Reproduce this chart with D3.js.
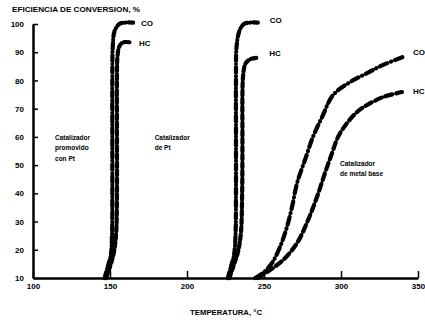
<!DOCTYPE html>
<html>
<head>
<meta charset="utf-8">
<script src="https://cdn.jsdelivr.net/npm/d3@7"></script>
<style>
  body { margin: 0; background: #fff; }
  svg { display: block; }
  text { font-family: "Liberation Sans", Arial, sans-serif; font-weight: bold; fill: #000; }
  .axis path, .axis line { stroke: #000; }
</style>
</head>
<body>
<div id="chart"></div>
<script>
// temperatures (°C) and conversion efficiency (%)
var xTicks = [100, 150, 200, 250, 300, 350];
var yTicks = [10, 20, 30, 40, 50, 60, 70, 80, 90, 100];

// promoted Pt catalyst
var promCoT = [146.5, 148.5, 150.5, 151.3, 151.5, 151.5, 151.5, 151.8, 153, 156, 160, 165];
var promCoV = [10, 14, 18, 25, 40, 60, 80, 92, 97.5, 100, 100.5, 100.5];
var promHcT = [147.5, 150, 152.5, 154, 154.5, 154.5, 154.5, 154.8, 156, 158.5, 163];
var promHcV = [10, 14, 19, 26, 40, 60, 80, 88, 92, 93.5, 93.5];

// Pt catalyst
var ptCoT = [226.5, 228.5, 230.5, 231.5, 231.8, 231.8, 231.8, 232.2, 234, 237, 241, 246];
var ptCoV = [10, 14, 18, 25, 40, 60, 80, 92, 97.5, 100, 100.5, 100.5];
var ptHcT = [227.5, 230, 233, 235, 235.8, 236, 236, 236.5, 238, 241, 245];
var ptHcV = [10, 14, 19, 26, 40, 60, 75, 82, 86, 87.5, 88];

// base metal catalyst
var baseCoT = [244.2, 249.4, 255.2, 260.4, 264.9, 268.2, 271.5, 276.6, 281.8, 287.7, 294.8, 305.9, 316.9, 327.3, 340.3];
var baseCoV = [10, 11.8, 15.3, 21, 28.1, 35.2, 43.7, 51.8, 60, 67, 74.8, 79.4, 82.6, 85.5, 88.3];
var baseHcT = [246, 253.9, 262.4, 271.5, 278.6, 284.4, 289.6, 294.2, 298.1, 303.9, 310.4, 316.9, 327.3, 339.6];
var baseHcV = [10, 12.8, 16.4, 22.4, 30.5, 38.7, 47.2, 54.3, 60, 64.9, 68.8, 71.3, 74.1, 75.9];

var width = 425, height = 320;
var svg = d3.select("#chart").append("svg")
    .attr("width", width)
    .attr("height", height);

var x = d3.scaleLinear().domain([100, 350]).range([33, 418]);
var y = d3.scaleLinear().domain([10, 100]).range([278, 24]);

function pts(t, v) {
    let out = [];
    for (let i = 0; i < Math.min(t.length, v.length); ++i) out.push([t[i], v[i]]);
    return out;
}

var series = [
    { data: pts(promCoT, promCoV), dash: "6,3,0.1,3", label: "CO", dx: 8, dy: 1 },
    { data: pts(promHcT, promHcV), dash: "5,3", label: "HC", dx: 9, dy: 1 },
    { data: pts(ptCoT, ptCoV), dash: "6,3,0.1,3", label: "CO", dx: 12, dy: -2 },
    { data: pts(ptHcT, ptHcV), dash: "5,3", label: "HC", dx: 13, dy: -5 },
    { data: pts(baseCoT, baseCoV), dash: "8,4,0.1,4", label: "CO", dx: 10, dy: -5 },
    { data: pts(baseHcT, baseHcV), dash: "7,4", label: "HC", dx: 11, dy: -1 }
];

// axes
var yAxis = d3.axisLeft(y).tickValues(yTicks).tickSize(-5).tickSizeOuter(0).tickPadding(9);
var gy = svg.append("g")
    .attr("class", "axis")
    .attr("transform", "translate(" + x(100) + ",0)")
    .call(yAxis);
gy.select(".domain").attr("stroke-width", 2.5);
gy.selectAll(".tick line").attr("stroke-width", 1.5);
gy.selectAll(".tick text").attr("font-size", 8).attr("font-family", null);

var xAxis = d3.axisBottom(x).tickValues(xTicks).tickSize(-7).tickSizeOuter(0).tickPadding(5);
var gx = svg.append("g")
    .attr("class", "axis")
    .attr("transform", "translate(0," + y(10) + ")")
    .call(xAxis);
gx.select(".domain").attr("stroke-width", 2.5);
gx.selectAll(".tick line").attr("stroke-width", 1.5);
gx.selectAll(".tick text").attr("font-size", 8).attr("font-family", null);

// curves
var line = d3.line()
    .x(function(d) { return x(d[0]); })
    .y(function(d) { return y(d[1]); })
    .curve(d3.curveCatmullRom.alpha(0.5));

svg.selectAll(".curve")
    .data(series)
    .enter().append("path")
    .attr("class", "curve")
    .attr("d", function(d) { return line(d.data); })
    .attr("fill", "none")
    .attr("stroke", "#000")
    .attr("stroke-width", 4.2)
    .attr("stroke-linecap", "round")
    .attr("stroke-dasharray", function(d) { return d.dash; });

svg.selectAll(".endlabel")
    .data(series)
    .enter().append("text")
    .attr("class", "endlabel")
    .attr("x", function(d) { return x(d.data[d.data.length - 1][0]) + d.dx; })
    .attr("y", function(d) { return y(d.data[d.data.length - 1][1]) + d.dy; })
    .attr("dy", "0.35em")
    .attr("font-size", 8)
    .text(function(d) { return d.label; });

// titles
svg.append("text")
    .attr("x", 12).attr("y", 12)
    .attr("font-size", 7)
    .attr("textLength", 128).attr("lengthAdjust", "spacingAndGlyphs")
    .text("EFICIENCIA DE CONVERSION, %");

svg.append("text")
    .attr("x", 190).attr("y", 315)
    .attr("font-size", 7)
    .attr("textLength", 72).attr("lengthAdjust", "spacingAndGlyphs")
    .text("TEMPERATURA, °C");

// notes next to the curves
var notes = [
    { t: 114.3, v: 59, lines: ["Catalizador", "promovido", "con Pt"] },
    { t: 179, v: 59, lines: ["Catalizador", "de Pt"] },
    { t: 299.4, v: 49.7, lines: ["Catalizador", "de metal base"] }
];
notes.forEach(function(n) {
    let tx = svg.append("text")
        .attr("x", x(n.t))
        .attr("y", y(n.v))
        .attr("font-size", 6.5);
    n.lines.forEach(function(s, i) {
        tx.append("tspan")
            .attr("x", x(n.t))
            .attr("dy", i === 0 ? 0 : 10.5)
            .text(s);
    });
});
</script>
</body>
</html>
